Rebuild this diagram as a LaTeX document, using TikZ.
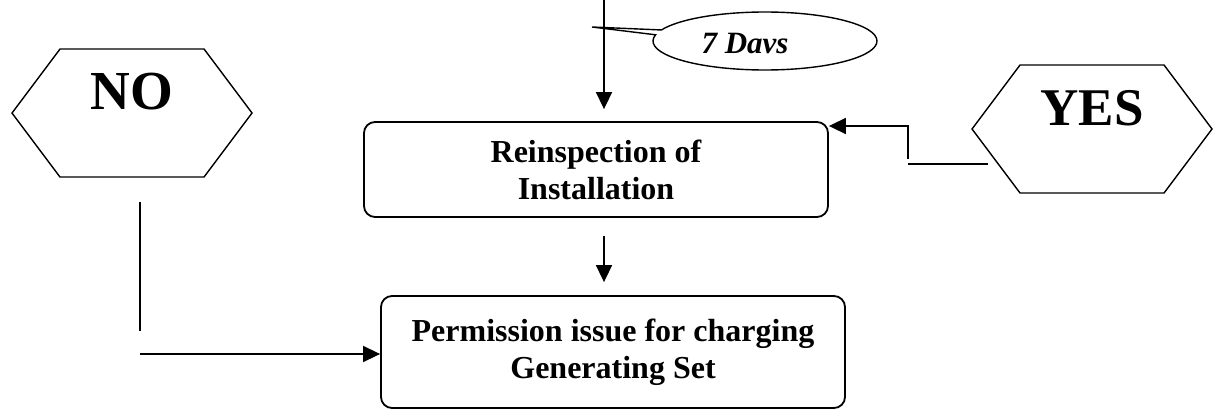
\documentclass[tikz,border=0pt]{standalone}
\usepackage{fontspec}
\setmainfont{Liberation Serif}
\usetikzlibrary{arrows.meta,shapes.callouts}
\tikzset{
  boxnode/.style={draw, line width=1.8pt, rounded corners=11pt, inner sep=0pt, align=center,
    font=\bfseries\fontsize{32}{37}\selectfont},
  hexline/.style={draw, line width=1.4pt, line join=miter},
  bigword/.style={font=\bfseries\fontsize{55}{60}\selectfont, inner sep=0pt},
  conn/.style={line width=1.6pt},
  arr/.style={conn, -{Triangle[length=17pt,width=16pt]}},
  bubble/.style={draw, line width=1.4pt, ellipse callout, inner sep=0pt, callout pointer arc=10},
}
\begin{document}
\begin{tikzpicture}[x=1pt,y=-1pt]
\useasboundingbox (0,0) rectangle (1218,412);
% boxes
\node[boxnode, minimum width=464pt, minimum height=95pt] (reins) at (596,169.5) {Reinspection of\\Installation};
\node[boxnode, minimum width=464pt, minimum height=112pt] (perm) at (613,352) {Permission issue for charging\\Generating Set};
% hexagons
\draw[hexline] (12,113) -- (60,49) -- (204,49) -- (252,113) -- (204,177) -- (60,177) -- cycle;
\node[bigword] (no) at (132,92) {NO};
\draw[hexline] (972,129) -- (1020,65) -- (1164,65) -- (1212,129) -- (1164,193) -- (1020,193) -- cycle;
\node[bigword, font=\bfseries\fontsize{53}{58}\selectfont] (yes) at (1092,108) {YES};
% callout
\node[bubble, minimum width=224pt, minimum height=58pt, callout absolute pointer={(592,27)}] (bubble) at (765,41) {};
\node[font=\bfseries\itshape\fontsize{31}{34}\selectfont, inner sep=0pt] (davs) at (745,44) {7 Davs};
% connectors
\coordinate (topstart) at (604,0);
\draw[arr, shorten >=12pt] (topstart) -- (topstart |- reins.north);
\draw[arr, shorten <=18pt, shorten >=13pt] (reins.south -| topstart) -- (perm.north -| topstart);
\coordinate (nofree) at (140,202);
\coordinate (nobend) at (140,331);
\draw[conn] (nofree) -- (nobend);
\coordinate (nofeed) at (140,354);
\draw[arr] (nofeed) -- (nofeed -| perm.west);
\coordinate (yesout) at (988,164);
\coordinate (yesbend) at (908,164);
\draw[conn] (yesout) -- (yesbend);
\coordinate (yesup) at (908,159);
\coordinate (yeslvl) at (908,126);
\draw[arr] (yesup) -- (yeslvl) -- (yeslvl -| reins.east);
\end{tikzpicture}
\end{document}
